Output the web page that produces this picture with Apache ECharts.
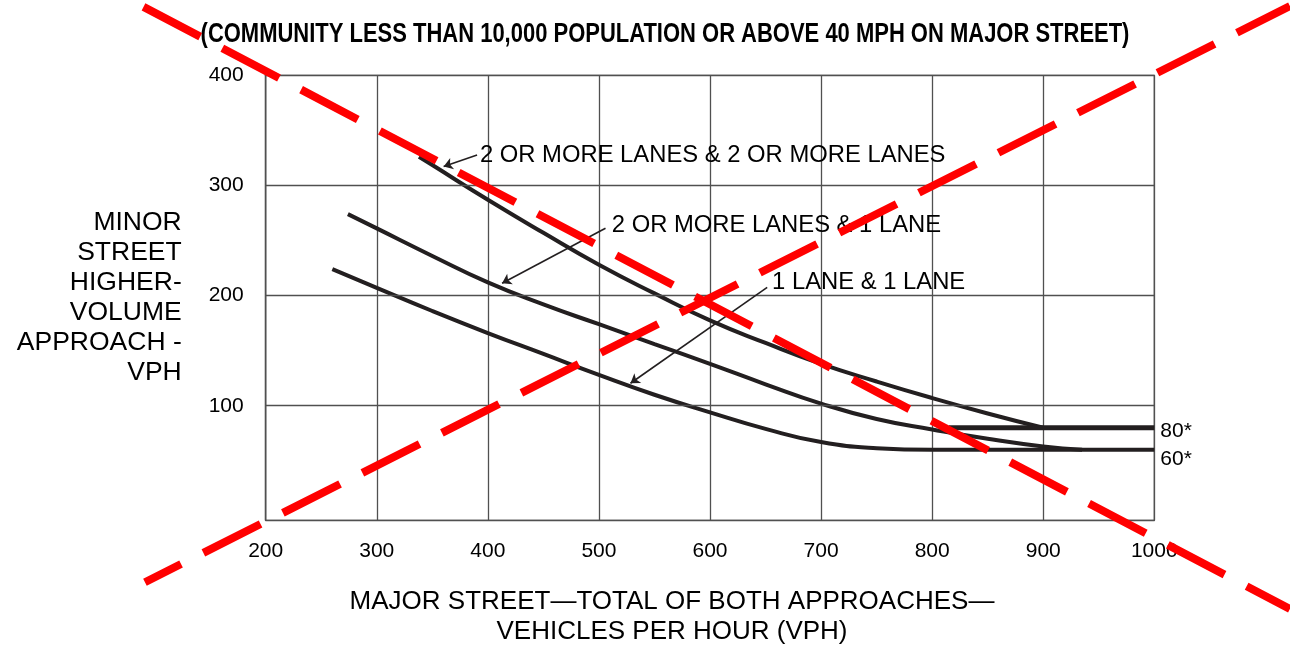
<!DOCTYPE html>
<html>
<head>
<meta charset="utf-8">
<script src="https://cdn.jsdelivr.net/npm/echarts@6/dist/echarts.min.js"></script>
<style>
html,body{margin:0;padding:0;background:#fff;}
#chart{width:1290px;height:656px;}
</style>
</head>
<body>
<div id="chart"></div>
<script>
// ---- data ----
const titleText = '(COMMUNITY LESS THAN 10,000 POPULATION OR ABOVE 40 MPH ON MAJOR STREET)';
const xAxisTitle = 'MAJOR STREET\u2014TOTAL OF BOTH APPROACHES\u2014\nVEHICLES PER HOUR (VPH)';
const yAxisTitle = 'MINOR\nSTREET\nHIGHER-\nVOLUME\nAPPROACH -\nVPH';
const xTicks = [200, 300, 400, 500, 600, 700, 800, 900, 1000];
const yTicks = [100, 200, 300, 400];

const seriesNames = ['2 OR MORE LANES & 2 OR MORE LANES', '2 OR MORE LANES & 1 LANE', '1 LANE & 1 LANE'];
const curveTwoTwo = [[338,326],[350,318.5],[400,287],[450,257],[500,228],[550,202],[600,177.5],[650,157],[700,138],[750,122],[800,107],[850,93],[900,80]];
const curveTwoOne = [[274,274],[300,261],[350,236],[400,212],[450,192],[500,174],[550,156],[600,138],[650,119.5],[700,102],[750,88],[800,78.5],[850,70],[900,63],[935,60]];
const curveOneOne = [[260,224],[300,207],[350,186],[400,166],[450,147],[500,128],[550,110],[600,94],[650,79],[700,67],[750,61.5],[800,60],[850,60],[900,60],[950,60],[1000,60]];
const minLine80 = [[815,80],[1000,80]];
const endLabels = ['80*', '60*'];

// arrows: [tail, tip] in data units; label anchors in data units
const arrows = [
  [[390.3,327.6],[360.2,317.1]],
  [[505.9,261.1],[412.8,211.2]],
  [[651.5,207.5],[528.4,120.4]]
];
const labelAnchors = [[392.9,327.6],[511.6,264],[655.9,212.4]];

// red cross-out lines (data units, extend outside plot)
const crossDown = [[90.0,462.1],[1122.1,-84.5]];
const crossUp = [[91.3,-60.2],[1122.1,462.8]];

// ---- chart ----
const FONT = 'Liberation Sans, Arial, Helvetica, sans-serif';
const INK = '#231f20';
const GRID = '#505050';
const chart = echarts.init(document.getElementById('chart'), null, {renderer:'canvas'});

function curveSeries(i, data, extra) {
  return Object.assign({
    type:'line', name: seriesNames[i], data: data,
    smooth: 0.5, showSymbol:false, symbol:'none',
    lineStyle:{color:INK, width:4}, z:3,
    markLine:{
      silent:true, symbol:['none','arrow'], symbolSize:9, animation:false,
      label:{show:false},
      lineStyle:{color:INK, width:1.6, type:'solid'},
      data:[[{coord:arrows[i][0]},{coord:arrows[i][1]}]]
    },
    markPoint:{
      silent:true, symbol:'circle', symbolSize:0, animation:false,
      itemStyle:{color:'rgba(0,0,0,0)'},
      label:{show:true, position:'right', distance:0, formatter: seriesNames[i],
             fontFamily:FONT, fontSize:23.8, color:'#000'},
      data:[{coord:labelAnchors[i]}]
    }
  }, extra || {});
}

const option = {
  animation:false,
  backgroundColor:'#fff',
  grid:{left:265.7, right:135.7, top:75.3, bottom:135.7, show:true, borderColor:GRID, borderWidth:1.3, backgroundColor:'#fff'},
  xAxis:{
    type:'value', min:xTicks[0], max:xTicks[xTicks.length-1], interval:100,
    name:xAxisTitle, nameLocation:'middle', nameGap:67,
    nameTextStyle:{fontFamily:FONT, fontSize:26, lineHeight:30, color:'#000', padding:[0,76,0,0]},
    axisLine:{show:true, onZero:false, lineStyle:{color:GRID, width:1.3}},
    axisTick:{show:false},
    axisLabel:{fontFamily:FONT, fontSize:21, color:'#000', margin:20, formatter:function(v){return String(v);}},
    splitLine:{show:true, lineStyle:{color:GRID, width:1.3}}
  },
  yAxis:{
    type:'value', min:-4, max:400,
    name:yAxisTitle, nameLocation:'middle', nameGap:84, nameRotate:0,
    nameTextStyle:{fontFamily:FONT, fontSize:26.5, lineHeight:30, color:'#000', align:'right', verticalAlign:'middle'},
    axisLine:{show:true, lineStyle:{color:GRID, width:1.3}},
    axisTick:{show:false, customValues:yTicks},
    axisLabel:{fontFamily:FONT, fontSize:21, color:'#000', margin:22, customValues:yTicks},
    splitLine:{show:false}
  },
  series:[
    {
      type:'line', name:'grid rows', data:[], z:1, silent:true,
      markLine:{
        silent:true, symbol:['none','none'], animation:false, label:{show:false},
        lineStyle:{color:GRID, width:1.3, type:'solid'},
        data:yTicks.map(function(v){ return {yAxis:v}; })
      }
    },
    curveSeries(0, curveTwoTwo),
    curveSeries(1, curveTwoOne),
    curveSeries(2, curveOneOne, {
      endLabel:{show:true, formatter:endLabels[1], distance:6, offset:[0,9], fontFamily:FONT, fontSize:21, color:'#000'}
    }),
    {
      type:'line', name:'minimum 80', data:minLine80, showSymbol:false, symbol:'none',
      lineStyle:{color:INK, width:5}, z:3,
      endLabel:{show:true, formatter:endLabels[0], distance:6, offset:[0,3], fontFamily:FONT, fontSize:21, color:'#000'}
    }
  ]
};
chart.setOption(option);

// Title (condensed bold) and red cross-out lines placed via the chart's own scale
const toPx = function(p){ return chart.convertToPixel({gridIndex:0}, p); };
function crossLine(pts, offset) {
  const a = toPx(pts[0]), b = toPx(pts[1]);
  return {
    type:'line', silent:true, z:100,
    shape:{x1:a[0], y1:a[1], x2:b[0], y2:b[1]},
    style:{stroke:'#ff0000', lineWidth:8, lineDash:[64,25], lineDashOffset:offset, lineCap:'butt'}
  };
}
chart.setOption({
  graphic:[
    {
      type:'text', silent:true, z:50, x:665, y:35, scaleX:0.814, scaleY:1,
      style:{text:titleText, fontFamily:FONT, fontWeight:'bold', fontSize:27, fill:'#000',
             textAlign:'center', textVerticalAlign:'middle'}
    },
    crossLine(crossDown, 0),
    crossLine(crossUp, 23.6)
  ]
});
</script>
</body>
</html>
